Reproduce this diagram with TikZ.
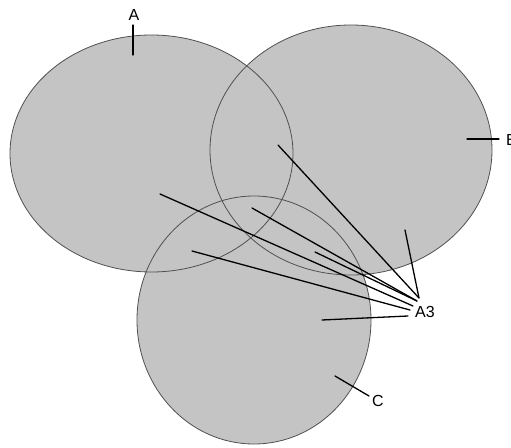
\documentclass[tikz,border=0pt]{standalone}
\usepackage{fontspec}
\setmainfont{Liberation Sans}
\definecolor{setgray}{RGB}{196,196,196}
\definecolor{rimgray}{RGB}{80,80,80}
\begin{document}
\begin{tikzpicture}[x=1pt, y=-1pt, line cap=round,
    setfill/.style={fill=setgray},
    setrim/.style={draw=rimgray, line width=0.8pt},
    pointer/.style={draw=black, line width=1.3pt},
    lbl/.style={inner sep=0pt, font=\fontsize{16}{18}\selectfont}]
    \useasboundingbox (0,0) rectangle (511,447);

    % Sets
    \fill[setfill] (151.5,153.5) ellipse [x radius=141.5, y radius=118.5];
    \fill[setfill] (351,150) ellipse [x radius=141, y radius=125];
    \fill[setfill] (254,320) ellipse [x radius=117, y radius=124];
    \draw[setrim] (151.5,153.5) ellipse [x radius=141.5, y radius=118.5];
    \draw[setrim] (351,150) ellipse [x radius=141, y radius=125];
    \draw[setrim] (254,320) ellipse [x radius=117, y radius=124];

    % Labels
    \node[lbl] (A) at (134,15) {A};
    \node[lbl, anchor=west] (B) at (506,140) {B};
    \node[lbl] (C) at (378,401) {C};
    \node[lbl] (A3) at (425,312) {A3};

    % Label ticks
    \coordinate (a1) at (133,25);
    \coordinate (a2) at (133,55);
    \coordinate (b1) at (467,139);
    \coordinate (b2) at (499,139);
    \coordinate (c1) at (335,376);
    \coordinate (c2) at (369,396);
    \draw[pointer] (a1) -- (a2);
    \draw[pointer] (b1) -- (b2);
    \draw[pointer] (c1) -- (c2);

    % Pointers to A3
    \coordinate (p1) at (278,145);
    \coordinate (p2) at (405,230);
    \coordinate (p3) at (252,208);
    \coordinate (p4) at (315,252);
    \coordinate (p5) at (160,194);
    \coordinate (p6) at (192,251);
    \coordinate (p7) at (322,320);
    \coordinate (q1) at (419,298);
    \coordinate (q2) at (417,301);
    \coordinate (q3) at (413,306);
    \coordinate (q4) at (410,310);
    \coordinate (q5) at (408,316);
    \draw[pointer] (p1) -- (q1);
    \draw[pointer] (p2) -- (q1);
    \draw[pointer] (p3) -- (q2);
    \draw[pointer] (p4) -- (q2);
    \draw[pointer] (p5) -- (q3);
    \draw[pointer] (p6) -- (q4);
    \draw[pointer] (p7) -- (q5);
\end{tikzpicture}
\end{document}
